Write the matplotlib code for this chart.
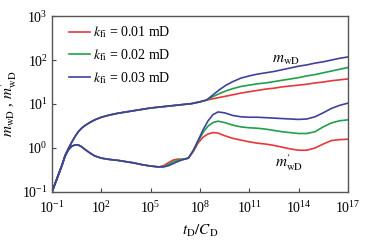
import matplotlib
matplotlib.use("Agg")
import matplotlib.pyplot as plt
import numpy as np

plt.rcParams['font.family'] = ['Liberation Serif', 'DejaVu Serif']
plt.rcParams['mathtext.fontset'] = 'stix'

# exponents (log10)
# shared early part (all three cases overlap)
t_early = [-1, -0.7, -0.4, -0.2, 0.0, 0.2, 0.4, 0.6, 0.8, 1.0, 1.3, 1.6, 2.0, 2.5,
           3.0, 3.5, 4.0, 4.5, 5.0, 5.5]
m_early = [-1.0, -0.70, -0.40, -0.17, -0.01, 0.13, 0.26, 0.37, 0.45, 0.51, 0.58, 0.64,
           0.70, 0.75, 0.79, 0.82, 0.85, 0.88, 0.91, 0.93]
d_early = [-1.0, -0.70, -0.40, -0.18, -0.04, 0.04, 0.07, 0.07, 0.03, -0.03, -0.11, -0.18,
           -0.23, -0.26, -0.28, -0.31, -0.34, -0.38, -0.41, -0.43]

# pressure, later part
t_m = [5.5, 6.0, 6.5, 7.0, 7.5, 8.0, 8.4, 8.8, 9.2, 9.6, 10.0, 10.5, 11.0, 11.5, 12.0,
       12.5, 13.0, 13.5, 14.0, 14.5, 15.0, 15.5, 16.0, 16.5, 17.0]
m_red = [0.93, 0.95, 0.97, 0.99, 1.01, 1.05, 1.09, 1.12, 1.15, 1.18, 1.21, 1.25, 1.28,
         1.31, 1.34, 1.36, 1.39, 1.41, 1.43, 1.45, 1.48, 1.50, 1.53, 1.55, 1.57]
m_green = [0.93, 0.95, 0.97, 0.99, 1.01, 1.05, 1.09, 1.17, 1.24, 1.30, 1.35, 1.40, 1.43,
           1.46, 1.48, 1.51, 1.54, 1.57, 1.60, 1.64, 1.67, 1.71, 1.75, 1.79, 1.83]
m_blue = [0.93, 0.95, 0.97, 0.99, 1.01, 1.05, 1.09, 1.21, 1.33, 1.43, 1.51, 1.59, 1.64,
          1.68, 1.71, 1.74, 1.78, 1.82, 1.86, 1.89, 1.93, 1.96, 2.00, 2.04, 2.07]

# derivative, later part
t_d = [5.5, 5.8, 6.1, 6.4, 6.7, 7.0, 7.3, 7.6, 7.9, 8.2, 8.5, 8.8, 9.1, 9.5, 10.0, 10.5,
       11.0, 11.5, 12.0, 12.5, 13.0, 13.5, 14.0, 14.5, 15.0, 15.5, 16.0, 16.5, 17.0]
d_red = [-0.43, -0.40, -0.33, -0.27, -0.25, -0.26, -0.23, -0.08, 0.12, 0.25, 0.32, 0.35,
         0.34, 0.28, 0.22, 0.18, 0.14, 0.11, 0.09, 0.06, 0.02, -0.02, -0.05, -0.05, 0.00,
         0.09, 0.17, 0.19, 0.20]
d_green = [-0.43, -0.42, -0.37, -0.31, -0.27, -0.25, -0.23, -0.06, 0.16, 0.36, 0.50, 0.58,
           0.61, 0.58, 0.52, 0.48, 0.46, 0.45, 0.43, 0.40, 0.37, 0.35, 0.33, 0.33, 0.37,
           0.48, 0.57, 0.62, 0.64]
d_blue = [-0.43, -0.43, -0.40, -0.35, -0.30, -0.26, -0.23, -0.05, 0.18, 0.42, 0.62, 0.76,
          0.82, 0.80, 0.74, 0.71, 0.70, 0.70, 0.69, 0.68, 0.67, 0.66, 0.65, 0.66, 0.71,
          0.80, 0.90, 0.97, 1.02]

labels = ['0.01', '0.02', '0.03']
colors = ['#e8373a', '#20a04c', '#41419c']

fig = plt.figure(figsize=(3.74, 2.4), dpi=100)
ax = fig.add_axes([0.139, 0.2, 0.791, 0.733])

series = [(m_red, d_red), (m_green, d_green), (m_blue, d_blue)]
for (mm, dd), lab, c in zip(series, labels, colors):
    tm = 10 ** np.array(t_early + t_m[1:])
    ym = 10 ** np.array(m_early + mm[1:])
    td = 10 ** np.array(t_early + t_d[1:])
    yd = 10 ** np.array(d_early + dd[1:])
    ax.plot(tm, ym, color=c, lw=1.2,
            label=r'$k_{\mathrm{fi}}$' + ' = ' + lab + ' mD')
    ax.plot(td, yd, color=c, lw=1.2)

ax.set_xscale('log')
ax.set_yscale('log')
ax.set_xlim(1e-1, 1e17)
ax.set_ylim(1e-1, 1e3)
ax.set_xticks([1e-1, 1e2, 1e5, 1e8, 1e11, 1e14, 1e17])
ax.set_yticks([1e-1, 1e0, 1e1, 1e2, 1e3])
ax.minorticks_off()
ax.tick_params(direction='in', length=3, width=0.8, labelsize=10, color='#444444')
ax.tick_params(axis='x', pad=6)
ax.tick_params(axis='y', pad=3)
for s in ax.spines.values():
    s.set_color('#555555')
    s.set_linewidth(1.0)

ax.set_xlabel(r'$t_{\mathrm{D}}/C_{\mathrm{D}}$', fontsize=11, labelpad=5)
ax.set_ylabel(r'$m_{\mathrm{wD}}$ , $m^{\prime}_{\mathrm{wD}}$', fontsize=11, labelpad=2)

ax.text(10 ** 12.4, 10 ** 2.0, r'$m_{\mathrm{wD}}$', fontsize=11, va='center')
ax.text(10 ** 12.55, 10 ** -0.34, r'$m^{\prime}_{\mathrm{wD}}$', fontsize=11, va='center')

ax.legend(loc='upper left', frameon=False, fontsize=10, handlelength=1.5,
          handletextpad=0.2, labelspacing=0.5, borderaxespad=0.2,
          bbox_to_anchor=(0.03, 1.0))

fig.savefig('out.png', dpi=100)
